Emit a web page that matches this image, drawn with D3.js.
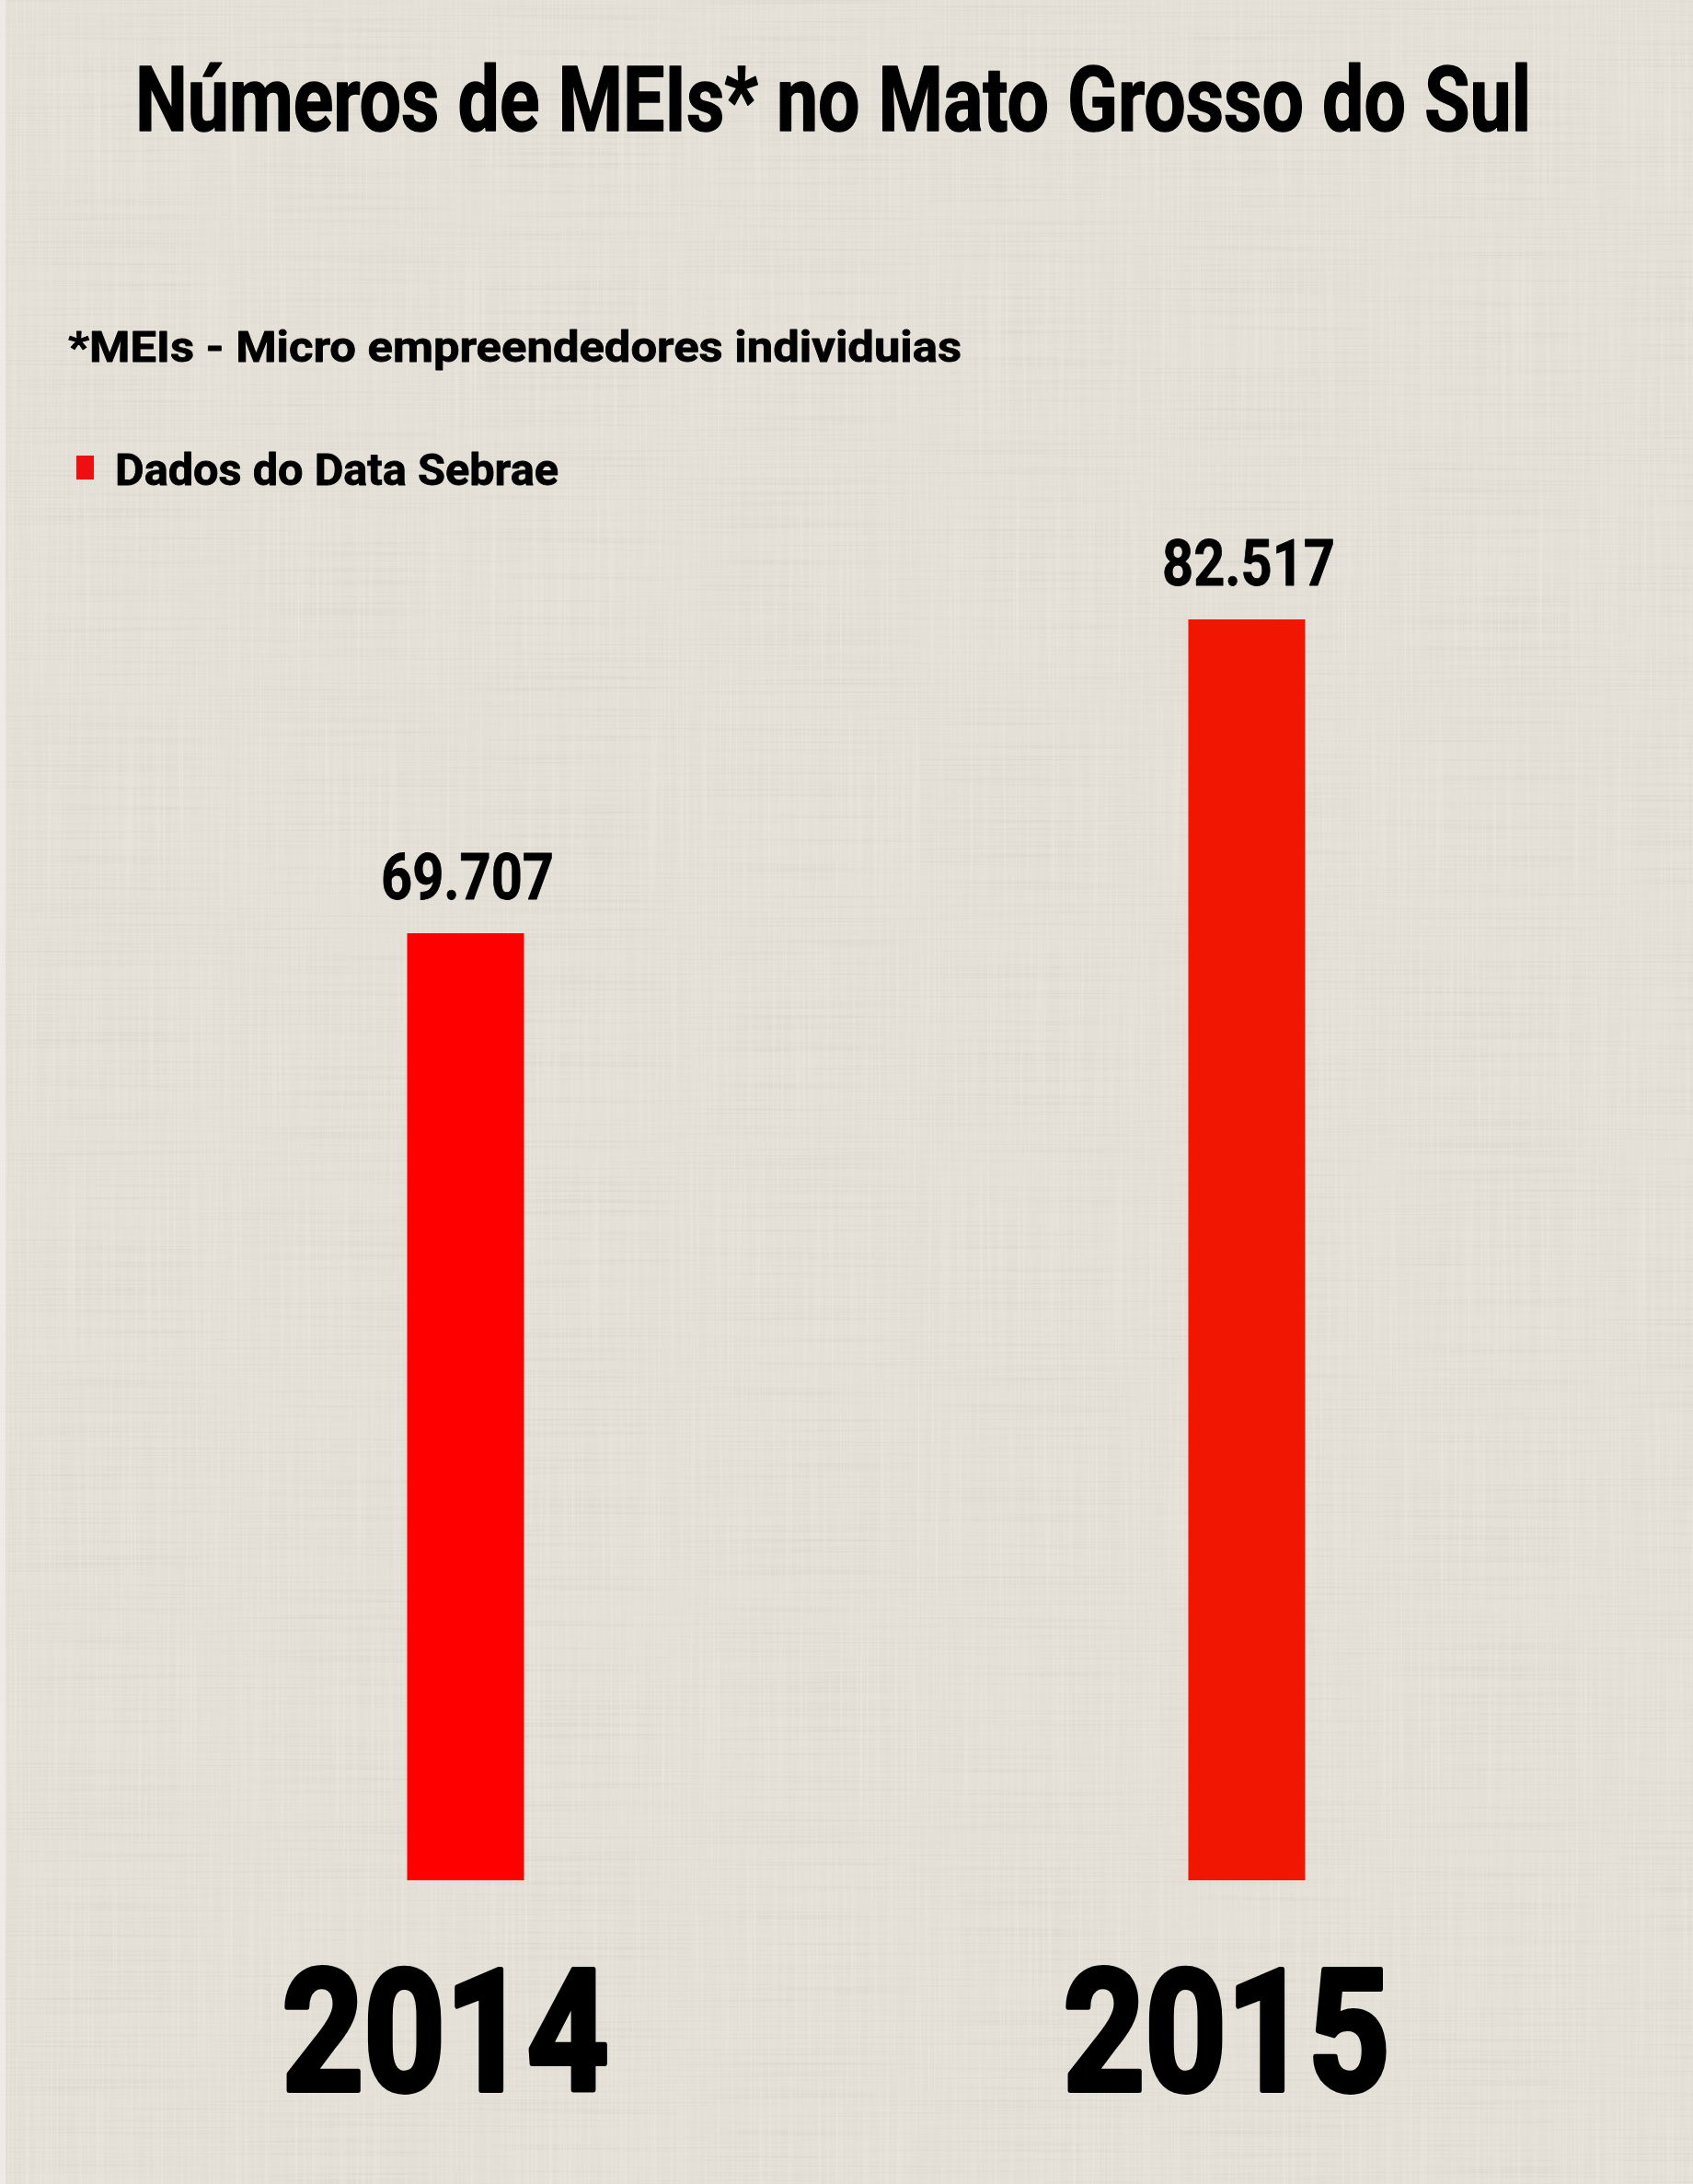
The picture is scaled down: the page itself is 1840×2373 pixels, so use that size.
<!DOCTYPE html>
<html>
<head>
<meta charset="utf-8">
<script src="https://cdn.jsdelivr.net/npm/d3@7"></script>
<style>
  html, body { margin: 0; padding: 0; background: #e4e0d7; }
  svg { display: block; }
  text { font-family: Roboto, "DejaVu Sans Condensed", "Liberation Sans", sans-serif; font-weight: 700; fill: #000; }
</style>
</head>
<body>
<script>
// ---- data ----
const years = ["2014", "2015"];
const values = [69707, 82517];
const valueLabels = ["69.707", "82.517"];
const barColors = ["#ff0000", "#f01602"];
const titleText = "Números de MEIs* no Mato Grosso do Sul";
const noteText = "*MEIs - Micro empreendedores individuias";
const legendText = "Dados do Data Sebrae";

const W = 1840, H = 2373;
const svg = d3.select("body").append("svg").attr("width", W).attr("height", H);
const defs = svg.append("defs");

// linen texture
const fH = defs.append("filter").attr("id", "linen").attr("x", 0).attr("y", 0).attr("width", W).attr("height", H)
  .attr("filterUnits", "userSpaceOnUse");
fH.append("feTurbulence").attr("type", "fractalNoise").attr("baseFrequency", "0.004 0.45").attr("numOctaves", 2).attr("seed", 4).attr("result", "n1");
fH.append("feColorMatrix").attr("in", "n1").attr("type", "matrix")
  .attr("values", "0 0 0 0 0.45  0 0 0 0 0.43  0 0 0 0 0.38  1.1 0 0 0 -0.52").attr("result", "d1");
fH.append("feTurbulence").attr("type", "fractalNoise").attr("baseFrequency", "0.45 0.004").attr("numOctaves", 2).attr("seed", 9).attr("result", "n2");
fH.append("feColorMatrix").attr("in", "n2").attr("type", "matrix")
  .attr("values", "0 0 0 0 1  0 0 0 0 1  0 0 0 0 0.98  1.1 0 0 0 -0.5").attr("result", "d2");
const merge = fH.append("feMerge");
merge.append("feMergeNode").attr("in", "d1");
merge.append("feMergeNode").attr("in", "d2");

svg.append("rect").attr("width", W).attr("height", H).attr("fill", "#e4e0d7");
svg.append("rect").attr("width", W).attr("height", H).attr("fill", "#fff").attr("filter", "url(#linen)").attr("opacity", 0.4);
svg.append("rect").attr("x", 0).attr("y", 0).attr("width", 6).attr("height", H).attr("fill", "#f2f0ec").attr("opacity", 0.7);

// ---- scales ----
const x = d3.scalePoint().domain(years).range([506, 1355]);
const y = d3.scaleLinear().domain([31050, 82517]).range([2043, 673]);
const barW = 127;

const data = years.map((yr, i) => ({ year: yr, value: values[i], label: valueLabels[i], color: barColors[i] }));

// bars
svg.append("g").selectAll("rect").data(data).join("rect")
  .attr("x", d => x(d.year) - barW / 2)
  .attr("width", barW)
  .attr("y", d => y(d.value))
  .attr("height", d => y.range()[0] - y(d.value))
  .attr("fill", d => d.color);

// helper for fitted text
function fitText(g, str, xStart, base, size, len, strokeW) {
  const t = g.append("text").attr("x", xStart).attr("y", base)
    .attr("font-size", size)
    .attr("textLength", len).attr("lengthAdjust", "spacingAndGlyphs").text(str);
  if (strokeW) t.attr("stroke", "#000").attr("stroke-width", strokeW).attr("stroke-linejoin", "round");
  return t;
}

// value labels
const vLen = 188;
data.forEach(d => {
  fitText(svg, d.label, x(d.year) + 2 - vLen / 2, y(d.value) - 37, 70, vLen, 0.8);
});

// year labels (axis)
const yrLen = 355;
data.forEach(d => {
  fitText(svg, d.year, x(d.year) - 22 - yrLen / 2, 2271, 184, yrLen, 6);
});

// title
fitText(svg, titleText, 147, 142, 98, 1517, 1.5);

// note
fitText(svg, noteText, 74, 393, 47, 971, 0.8);

// legend
svg.append("rect").attr("x", 83).attr("y", 495).attr("width", 19).attr("height", 26).attr("fill", "#ee1010");
fitText(svg, legendText, 125, 527, 48, 482, 0.8);
</script>
</body>
</html>
